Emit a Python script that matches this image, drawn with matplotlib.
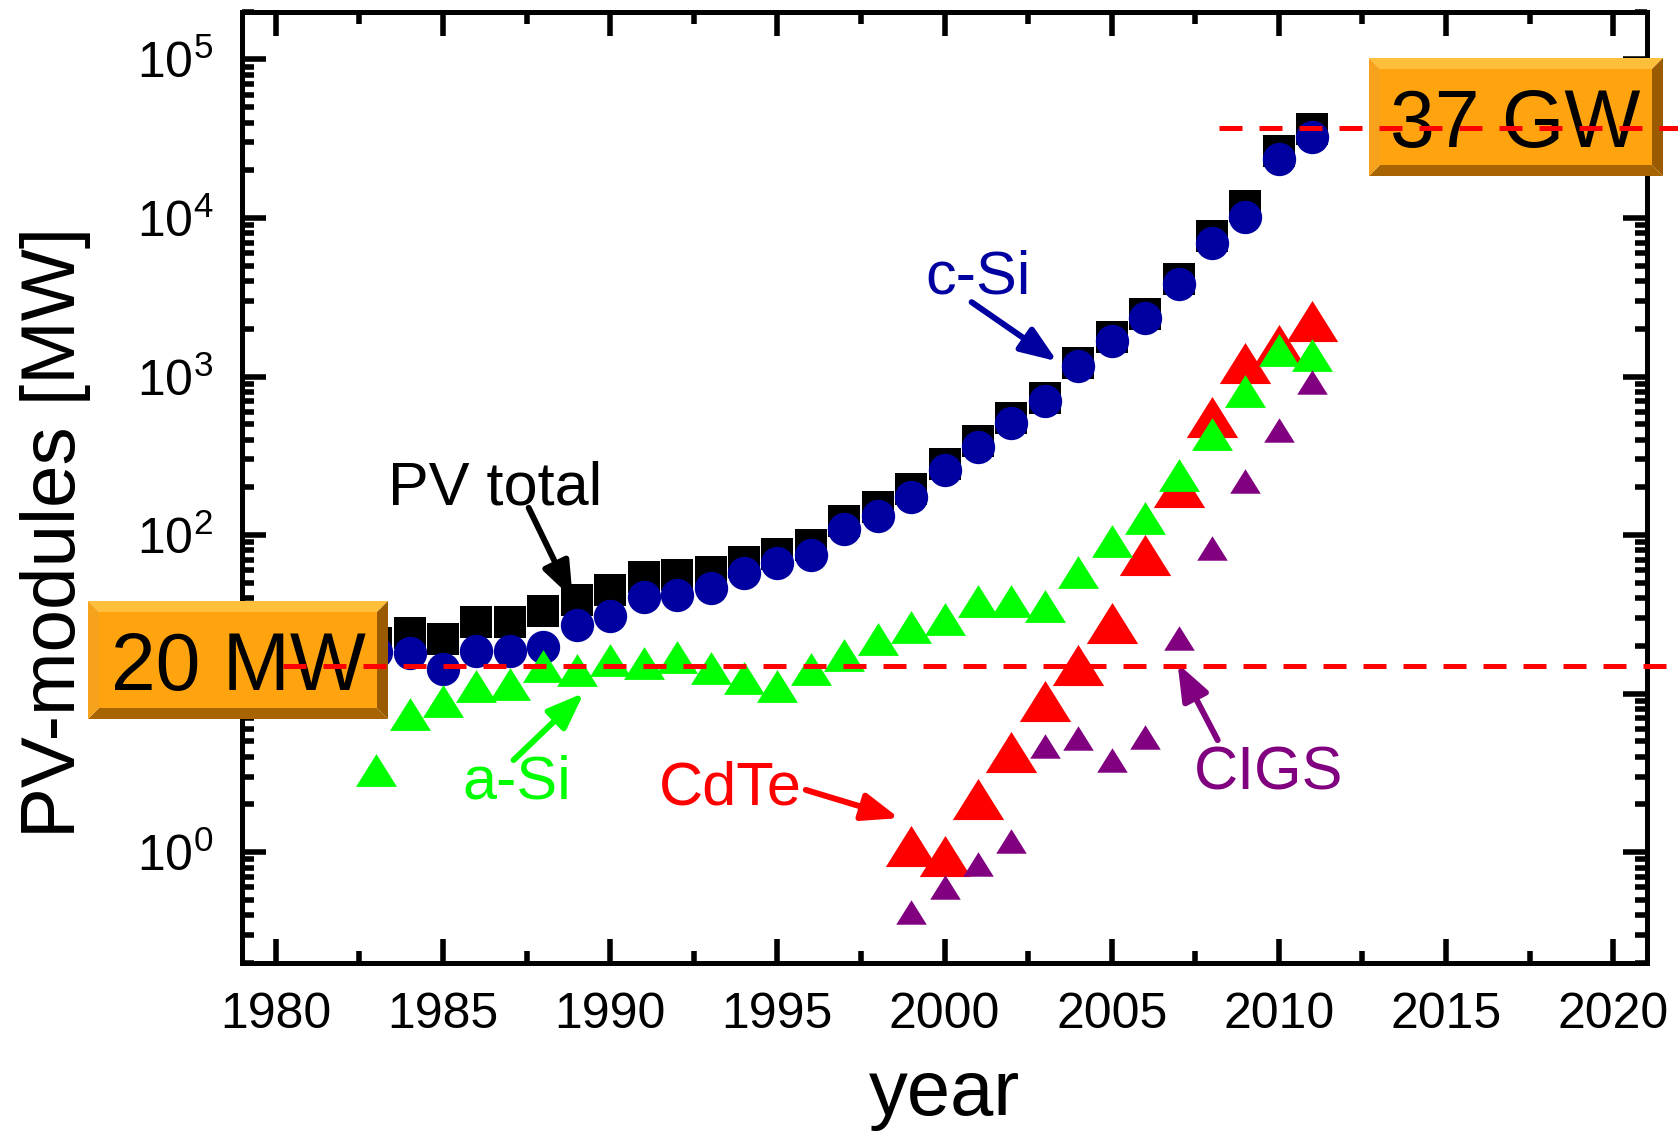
import math

import matplotlib
matplotlib.use("Agg")
import matplotlib.pyplot as plt
from matplotlib.patches import Polygon
from matplotlib.ticker import FixedLocator, FuncFormatter, LogLocator, MultipleLocator

plt.rcParams["font.family"] = ["Liberation Sans", "DejaVu Sans"]

# yearly module production [MW]
years = list(range(1983, 2012))
pv_total = [21, 24.2, 22.2, 28.2, 28.2, 33.0, 39.2, 45.3, 54.1, 56.3, 58.5, 67.9,
            75.5, 86.9, 123, 150, 196, 280, 393, 544, 733, 1225, 1775, 2477,
            4150, 7740, 11940, 26500, 36300]
c_si = [18.3, 18.1, 14.3, 18.7, 18.5, 19.6, 27.0, 31.0, 40.6, 42.0, 46.5, 57.3,
        66.2, 75.1, 109, 132, 175, 257, 360, 512, 701, 1172, 1686, 2333,
        3819, 6920, 10070, 23550, 32600]
a_si = [3.30, 7.46, 9.01, 11.1, 11.5, 15.0, 14.0, 16.4, 15.6, 17.0, 14.5, 12.6,
        11.2, 14.2, 17.4, 22.0, 26.5, 29.4, 38.2, 38.4, 35.9, 58.9, 91.5, 128,
        239, 432, 806, 1476, 1358]
years_thin = list(range(1999, 2012))
cdte = [1.09, 0.94, 2.17, 4.27, 9.02, 15.1, 27.7, 75.0, 200, 553, 1217, 1589, 2244]
cigs = [0.42, 0.60, 0.84, 1.17, 4.70, 5.25, 3.79, 5.30, 22.3, 83.0, 219, 462, 923]

y_decades = [1, 10, 100, 1000, 10000, 100000]

level_low = 15       # where the "20 MW" line sits in the picture
level_high = 37000   # 37 GW

NAVY = "#0000A0"
GREEN = "#00FF00"
RED = "#FF0000"
PURPLE = "#800080"

W, H = 1678, 1136
fig = plt.figure(figsize=(W / 100, H / 100), dpi=100)
ax = fig.add_axes([0.1445, 0.1523, 0.8368, 0.8374])

# flattened triangle, a bit wider than tall
tri = [(-1, -0.8), (1, -0.8), (0, 0.8)]

ax.plot(years, pv_total, ls="none", marker="s", ms=22.5, mew=0, color="black", zorder=3)
ax.plot(years, c_si, ls="none", marker="o", ms=24, mew=0, color=NAVY, zorder=4)
ax.plot(years_thin, cdte, ls="none", marker=tri, ms=37, mew=0, color=RED, zorder=5)
ax.plot(years, a_si, ls="none", marker=tri, ms=29.5, mew=0, color=GREEN, zorder=6)
ax.plot(years_thin, cigs, ls="none", marker=tri, ms=22, mew=0, color=PURPLE, zorder=7)

ax.set_yscale("log")
ax.set_xlim(1979, 2021)
ax.set_ylim(0.2, 2e5)


def decade_label(v, pos):
    k = round(math.log10(v))
    if k == 1:
        return ""  # sits under the "20 MW" box
    return r"$\mathregular{10^{%d}}$" % k


ax.xaxis.set_major_locator(MultipleLocator(5))
ax.xaxis.set_minor_locator(MultipleLocator(2.5))
ax.yaxis.set_major_locator(FixedLocator(y_decades))
ax.yaxis.set_minor_locator(LogLocator(base=10, subs=range(2, 10)))
ax.yaxis.set_major_formatter(FuncFormatter(decade_label))
ax.yaxis.set_minor_formatter(FuncFormatter(lambda v, p: ""))

ax.tick_params(which="both", direction="in", top=True, right=True, width=4, labelsize=36, pad=21)
ax.tick_params(which="major", length=17)
ax.tick_params(which="minor", length=8.5)
for s in ax.spines.values():
    s.set_linewidth(3.6)

ax.set_xlabel("year", fontsize=56, va="center")
ax.xaxis.set_label_coords(0.5, -0.138)
ax.set_ylabel("PV-modules [MW]", fontsize=55, va="center")
ax.yaxis.set_label_coords(-0.133, 0.453)

# labels with arrows
labels = [
    ("PV total", "black", (1986.55, 157), (1987.56, 148.6), (1988.88, 39.7)),
    ("c-Si", NAVY, (2001.0, 3340), (2000.81, 2945), (2003.37, 1247)),
    ("a-Si", GREEN, (1987.2, 2.19), (1987.11, 3.81), (1989.21, 10.1)),
    ("CdTe", RED, (1993.6, 1.99), (1995.85, 2.47), (1998.64, 1.64)),
    ("CIGS", PURPLE, (2009.7, 2.47), (2008.17, 5.09), (2006.97, 15.5)),
]
for text, col, pos, tail, tip in labels:
    ax.text(pos[0], pos[1], text, color=col, fontsize=44, ha="center", va="baseline", zorder=8)
    ax.annotate("", xy=tip, xytext=tail, zorder=8,
                arrowprops=dict(arrowstyle="-|>,head_length=1.1,head_width=0.42",
                                color=col, lw=4.3, mutation_scale=20,
                                shrinkA=0, shrinkB=0))


def px(x, y):
    return (x / W, 1 - y / H)


def orange_box(x0, y0, x1, y1, label, bx, by):
    b = 11
    parts = [
        ([(x0, y0), (x1, y0), (x1 - b, y0 + b), (x0 + b, y0 + b)], "#FFBF3A"),
        ([(x0, y1), (x1, y1), (x1 - b, y1 - b), (x0 + b, y1 - b)], "#A86400"),
        ([(x0, y0), (x0 + b, y0 + b), (x0 + b, y1 - b), (x0, y1)], "#F7A21C"),
        ([(x1, y0), (x1 - b, y0 + b), (x1 - b, y1 - b), (x1, y1)], "#9A5A00"),
        ([(x0 + b, y0 + b), (x1 - b, y0 + b), (x1 - b, y1 - b), (x0 + b, y1 - b)], "#FFA30F"),
    ]
    for verts, col in parts:
        ax.add_artist(Polygon([px(*v) for v in verts], closed=True, facecolor=col,
                              edgecolor="none", transform=fig.transFigure,
                              clip_on=False, zorder=9))
    fx, fy = px(bx, by)
    ax.text(fx, fy, label, transform=fig.transFigure, fontsize=58, ha="center",
            va="baseline", color="black", clip_on=False, zorder=10)


orange_box(88, 601, 388, 719, "20 MW", 238, 690)
orange_box(1369, 58, 1663, 176, "37 GW", 1515, 147)

# dashed guide lines, running out to the figure edge
dash = (0, (4.6, 3.4))
ax.plot([1980.2, 2022], [level_low, level_low], ls=dash, lw=3.6, color=RED,
        clip_on=False, zorder=11)
ax.plot([2008.2, 2022], [level_high, level_high], ls=dash, lw=3.6, color=RED,
        clip_on=False, zorder=11)

fig.savefig("out.png", dpi=100)
